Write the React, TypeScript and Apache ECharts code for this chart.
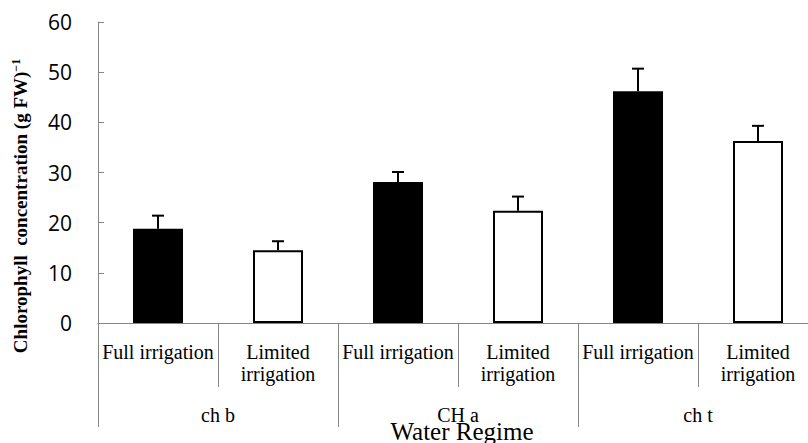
import React, { useEffect, useRef } from "react";
import * as echarts from "echarts";

const subCategories = [
  "Full irrigation",
  "Limited\nirrigation",
  "Full irrigation",
  "Limited\nirrigation",
  "Full irrigation",
  "Limited\nirrigation",
];
const groups = ["ch b", "CH a", "ch t"];
const means = [18.8, 14.5, 28.1, 22.4, 46.2, 36.3];
const errors = [2.6, 1.8, 2.0, 2.8, 4.5, 3.0];
const yMin = 0;
const yMax = 60;
const yInterval = 10;
const xTitle = "Water Regime";
const yTitleMain = "Chlorophyll  concentration (g FW)";
const yTitleSup = "−1";

const AXIS_GRAY = "#868686";

export default function App() {
  const ref = useRef<HTMLDivElement>(null);

  useEffect(() => {
    if (!ref.current) return;
    const chart = echarts.init(ref.current, undefined, { renderer: "svg" });

    const barData = means.map((m, i) => ({
      value: m,
      itemStyle:
        i % 2 === 0
          ? { color: "#000", borderColor: "#000", borderWidth: 0 }
          : { color: "#fff", borderColor: "#000", borderWidth: 2 },
    }));

    const errData = means.map((m, i) => [i, m, m + errors[i]]);

    chart.setOption({
      animation: false,
      grid: {
        left: 98,
        top: 22,
        right: -10,
        bottom: 120,
        containLabel: false,
        outerBoundsMode: "none",
      },
      graphic: [
        {
          type: "text",
          x: 462,
          y: 431,
          style: {
            text: xTitle,
            fontFamily: "Liberation Serif",
            fontSize: 25,
            fill: "#000",
            align: "center",
            verticalAlign: "middle",
          },
        },
        {
          type: "text",
          x: 20,
          y: 206,
          rotation: Math.PI / 2,
          style: {
            text: `{a|${yTitleMain}}{s|${yTitleSup}}`,
            align: "center",
            verticalAlign: "middle",
            rich: {
              a: {
                fontFamily: "Liberation Serif",
                fontWeight: "bold",
                fontSize: 19,
                fill: "#000",
              },
              s: {
                fontFamily: "Liberation Serif",
                fontWeight: "bold",
                fontSize: 12,
                fill: "#000",
                verticalAlign: "top",
                padding: [0, 0, 8, 0],
              },
            },
          },
        },
      ],
      xAxis: [
        {
          type: "category",
          data: subCategories,
          position: "bottom",
          z: 10,
          axisLine: { show: true, lineStyle: { color: AXIS_GRAY, width: 1 } },
          axisTick: {
            show: true,
            length: 64,
            interval: 0,
            lineStyle: { color: AXIS_GRAY, width: 1 },
          },
          axisLabel: {
            interval: 0,
            margin: 18,
            fontFamily: "Liberation Serif",
            fontSize: 20,
            lineHeight: 22,
            color: "#000",
            align: "center",
          },
        },
        {
          type: "category",
          data: groups,
          position: "bottom",
          offset: 0,
          z: 10,
          axisLine: { show: false },
          axisTick: {
            show: true,
            length: 104,
            interval: 0,
            lineStyle: { color: AXIS_GRAY, width: 1 },
          },
          axisLabel: {
            interval: 0,
            margin: 82,
            fontFamily: "Liberation Serif",
            fontSize: 20,
            color: "#000",
          },
        },
      ],
      yAxis: {
        type: "value",
        min: yMin,
        max: yMax,
        interval: yInterval,
        z: 10,
        axisLine: { show: true, lineStyle: { color: AXIS_GRAY, width: 1 } },
        axisTick: {
          show: true,
          inside: true,
          length: 6,
          lineStyle: { color: AXIS_GRAY, width: 1 },
        },
        splitLine: { show: false },
        axisLabel: {
          margin: 26,
          fontFamily: "Open Sans",
          fontSize: 21,
          color: "#000",
        },
      },
      series: [
        {
          type: "bar",
          xAxisIndex: 0,
          data: barData,
          barWidth: 50,
        },
        {
          type: "custom",
          xAxisIndex: 0,
          data: errData,
          encode: { x: 0, y: [1, 2] },
          z: 5,
          renderItem: (params: any, api: any) => {
            const base = api.coord([api.value(0), api.value(1)]);
            const top = api.coord([api.value(0), api.value(2)]);
            return {
              type: "group",
              children: [
                {
                  type: "line",
                  shape: { x1: base[0], y1: base[1], x2: base[0], y2: top[1] },
                  style: { stroke: "#000", lineWidth: 2 },
                },
                {
                  type: "line",
                  shape: { x1: base[0] - 6, y1: top[1], x2: base[0] + 6, y2: top[1] },
                  style: { stroke: "#000", lineWidth: 2 },
                },
              ],
            };
          },
        },
      ],
    });

    return () => chart.dispose();
  }, []);

  return (
    <div
      ref={ref}
      style={{ position: "fixed", left: 0, top: 0, width: 808, height: 443, background: "#fff" }}
    />
  );
}
